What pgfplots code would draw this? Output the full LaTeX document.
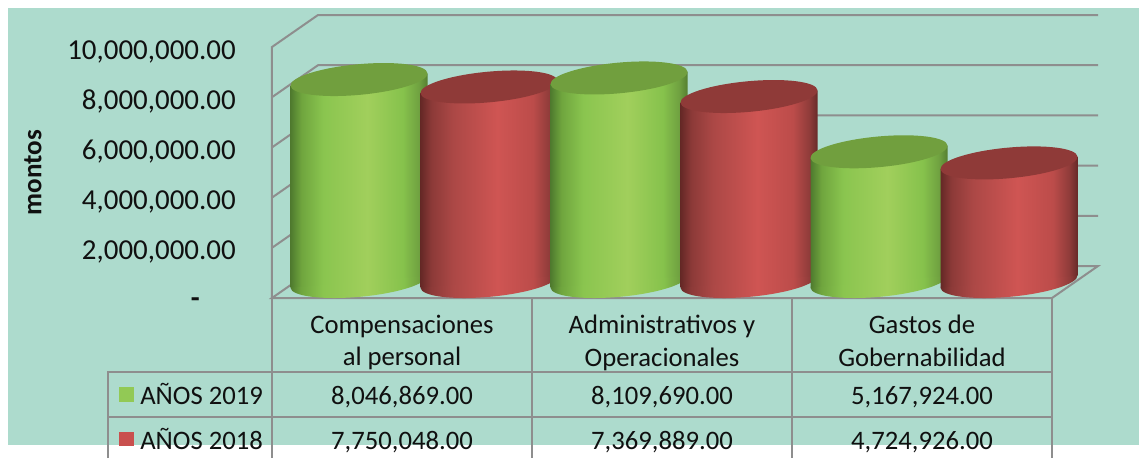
\documentclass[border=0pt]{standalone}
\usepackage{pgfplots}
\pgfplotsset{compat=1.18}
\usepackage{fontspec}
\setmainfont{Carlito}
\definecolor{bgc}{HTML}{ADDBCD}
\definecolor{linec}{HTML}{8E8E8E}
\definecolor{capG}{HTML}{719F3E}
\definecolor{capR}{HTML}{8F3A38}
\definecolor{txt}{HTML}{101010}
\definecolor{swG}{HTML}{92C955}
\definecolor{swR}{HTML}{C9504E}
\definecolor{ga}{HTML}{4F7A2E}\definecolor{gb}{HTML}{6FA53E}\definecolor{gc}{HTML}{8AC54F}\definecolor{gd}{HTML}{A1CF5C}\definecolor{ge}{HTML}{86C24C}\definecolor{gf}{HTML}{6FA040}\definecolor{gg}{HTML}{557F30}
\definecolor{ra}{HTML}{652826}\definecolor{rb}{HTML}{8C3A38}\definecolor{rc}{HTML}{AC4846}\definecolor{rd}{HTML}{CF5553}\definecolor{re}{HTML}{BC4C4A}\definecolor{rf}{HTML}{8F3C3A}\definecolor{rg}{HTML}{682A28}
\pgfdeclarehorizontalshading{gbar}{100bp}{color(0bp)=(ga);color(25bp)=(ga);color(29bp)=(gb);color(37bp)=(gc);color(53bp)=(gd);color(66bp)=(ge);color(72bp)=(gf);color(75bp)=(gg);color(100bp)=(gg)}
\pgfdeclarehorizontalshading{rbar}{100bp}{color(0bp)=(ra);color(25bp)=(ra);color(29bp)=(rb);color(37bp)=(rc);color(53bp)=(rd);color(66bp)=(re);color(72bp)=(rf);color(75bp)=(rg);color(100bp)=(rg)}
% tilted ellipses of the cylinders (lengths: 1px = 0.75pt)
\newcommand\tiltell{\pgfpathellipse{\pgfpointorigin}{\pgfqpoint{51.38pt}{4.74pt}}{\pgfqpoint{-1.054pt}{11.43pt}}}
\pgfdeclareplotmark{capG}{\tiltell\pgfsetfillcolor{capG}\pgfusepath{fill}}
\pgfdeclareplotmark{capR}{\tiltell\pgfsetfillcolor{capR}\pgfusepath{fill}}
\pgfdeclareplotmark{baseG}{\tiltell\pgfshadepath{gbar}{0}\pgfusepath{discard}}
\pgfdeclareplotmark{baseR}{\tiltell\pgfshadepath{rbar}{0}\pgfusepath{discard}}
% #1 x, #2 value, #3 G/R, #4 shading
\newcommand\cyl[4]{%
  \addplot[only marks, mark=base#3] coordinates {(#1,0)};
  \addplot[ybar, bar width=102.75pt, bar shift=0pt, draw=none, shade, shading=#4,
           cm={1,0.0876,0,1,(0pt,-17.082*#1 pt)}] coordinates {(#1,#2)};
  \addplot[only marks, mark=cap#3] coordinates {(#1,#2)};
}
\begin{document}
\begin{tikzpicture}[x=0.75pt,y=-0.75pt]
\path[use as bounding box] (0,0) rectangle (1139,458);
\fill[white] (0,0) rectangle (1139,458);
\fill[bgc] (8,8) rectangle (1139,445);
% frame axis
\begin{axis}[name=frame, at={(204pt,-223.5pt)}, anchor=south west, scale only axis,
  width=585pt, height=188.25pt, xmin=0, xmax=3, ymin=0, ymax=10000000,
  axis line style={draw=none}, clip=false, major tick length=0pt,
  scaled y ticks=false,
  ytick={0,2000000,4000000,6000000,8000000,10000000},
  yticklabels={{\raisebox{-6.5pt}{\textbf{-}}\rule{27pt}{0pt}},{2,000,000.00},{4,000,000.00},{6,000,000.00},{8,000,000.00},{10,000,000.00}},
  y tick label style={font=\fontsize{21.7pt}{24pt}\selectfont, text=txt, anchor=east, xshift=-23.7pt, yshift=-3.4pt},
  xtick={0.5,1.5,2.5},
  xticklabels={{Compensaciones\\al personal},{Administrativos y\\Operacionales},{Gastos de\\Gobernabilidad}},
  x tick label style={font=\fontsize{20pt}{24.6pt}\selectfont, text=txt, align=center, anchor=north, yshift=-9pt},
  ylabel={\textbf{montos}},
  ylabel style={font=\fontsize{20.3pt}{22pt}\selectfont, text=txt, at={(axis description cs:-0.3065,0.5)}, anchor=center},
]
\draw[linec, line width=1.5pt] (axis cs:0,0) -- (axis cs:0,10000000) -- ++(34.5pt,24pt) -- ++(585pt,0pt);
\draw[linec, line width=1.5pt] (axis cs:0,8000000) -- ++(34.5pt,24pt) -- ++(585pt,0pt);
\draw[linec, line width=1.5pt] (axis cs:0,6000000) -- ++(34.5pt,24pt) -- ++(585pt,0pt);
\draw[linec, line width=1.5pt] (axis cs:0,4000000) -- ++(34.5pt,24pt) -- ++(585pt,0pt);
\draw[linec, line width=1.5pt] (axis cs:0,2000000) -- ++(34.5pt,24pt) -- ++(585pt,0pt);
\draw[linec, line width=1.5pt] (axis cs:0,0) -- ++(34.5pt,24pt) -- ++(585pt,0pt) -- ++(-34.5pt,-24pt) -- cycle;
\end{axis}
% cylinders, painted left to right
\begin{axis}[at={(220.5pt,-211.125pt)}, anchor=south west, scale only axis,
  width=585pt, height=188.25pt, xmin=0, xmax=3, ymin=0, ymax=10000000,
  hide axis, clip=false, clip mode=individual]
\cyl{0.25}{8046869}{G}{gbar}
\cyl{0.75}{7750048}{R}{rbar}
\cyl{1.25}{8109690}{G}{gbar}
\cyl{1.75}{7369889}{R}{rbar}
\cyl{2.25}{5167924}{G}{gbar}
\cyl{2.75}{4724926}{R}{rbar}
\end{axis}
% data table
\draw[linec, line width=1.5pt] (272,298) -- (272,458) (532,298) -- (532,458) (792,298) -- (792,458) (1052,298) -- (1052,458);
\draw[linec, line width=1.5pt] (108,458) -- (108,372) -- (1052,372) (108,417) -- (1052,417);
\fill[swG] (119,387) rectangle (134,402);
\fill[swR] (119,432) rectangle (134,446);
\begin{scope}[every node/.style={text=txt, font=\fontsize{20pt}{24pt}\selectfont, inner sep=0pt, anchor=base}]
\node[anchor=base west] at (140,404) {AÑOS 2019};
\node[anchor=base west] at (140,449) {AÑOS 2018};
\node at (402,404) {8,046,869.00};
\node at (662,404) {8,109,690.00};
\node at (922,404) {5,167,924.00};
\node at (402,449) {7,750,048.00};
\node at (662,449) {7,369,889.00};
\node at (922,449) {4,724,926.00};
\end{scope}
\end{tikzpicture}
\end{document}
